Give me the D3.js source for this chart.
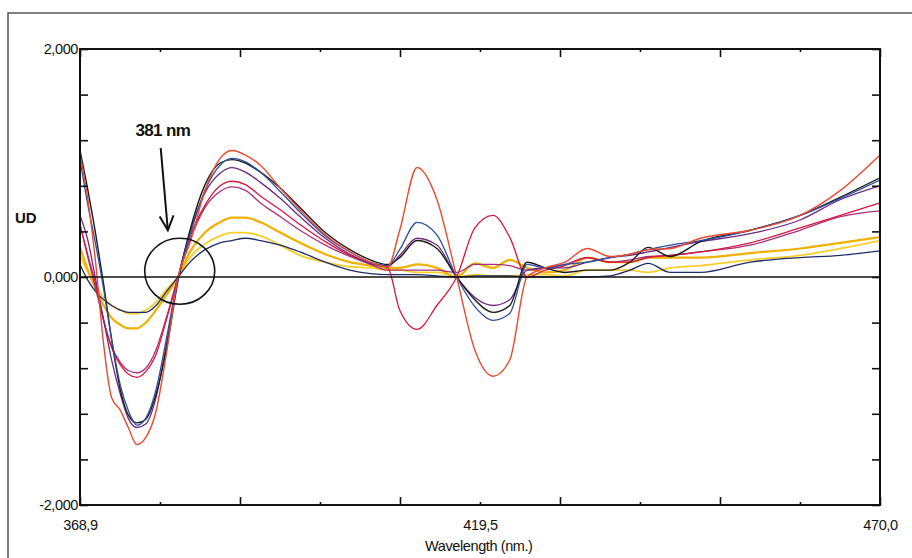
<!DOCTYPE html>
<html><head><meta charset="utf-8">
<script src="https://cdn.jsdelivr.net/npm/d3@7"></script>
<style>body{margin:0;background:#fff}svg{display:block}</style>
</head><body>
<svg id="c" width="912" height="558"></svg>
<script>
// ---- data ----
const wavelengths = [368.9,369.9,370.9,371.9,372.9,374.0,375.0,376.1,377.2,378.5,379.8,381.3,382.8,384.7,386.6,388.1,389.8,391.7,394.2,396.7,399.9,403.0,405.6,407.8,409.3,411.5,414.0,416.5,418.8,421.1,423.2,425.4,427.7,430.2,433.0,435.9,438.4,440.7,443.5,447.3,453.6,459.9,465.0,470.0];

const red     = [1.07,0.68,0.11,-0.60,-1.06,-1.17,-1.32,-1.47,-1.41,-1.18,-0.68,0,0.30,0.76,1.04,1.11,1.07,0.98,0.78,0.59,0.37,0.22,0.13,0.09,0.41,0.96,0.68,0,-0.64,-0.87,-0.73,0,0.08,0.13,0.25,0.18,0.20,0.24,0.25,0.34,0.41,0.54,0.76,1.07];
const blue    = [1.03,0.63,0.28,-0.11,-0.55,-0.95,-1.17,-1.30,-1.24,-0.99,-0.55,0,0.37,0.76,0.98,1.04,1.01,0.92,0.75,0.57,0.36,0.22,0.13,0.10,0.24,0.48,0.37,0,-0.26,-0.38,-0.32,0.11,0.08,0.11,0.13,0.17,0.20,0.24,0.28,0.32,0.41,0.54,0.69,0.85];
const black   = [1.11,0.76,0.37,-0.07,-0.55,-0.99,-1.21,-1.28,-1.25,-1.03,-0.64,-0.03,0.41,0.81,1.00,1.03,1.00,0.92,0.78,0.61,0.39,0.24,0.15,0.11,0.17,0.32,0.25,0,-0.20,-0.31,-0.25,0.13,0.08,0.04,0.06,0.06,0.13,0.26,0.18,0.31,0.41,0.54,0.70,0.87];
const purple  = [0.54,0.32,-0.03,-0.38,-0.73,-1.03,-1.24,-1.32,-1.29,-1.06,-0.60,-0.01,0.39,0.74,0.91,0.96,0.92,0.83,0.69,0.53,0.34,0.20,0.12,0.09,0.19,0.34,0.28,0,-0.18,-0.25,-0.20,0.06,0.08,0.08,0.13,0.17,0.19,0.22,0.26,0.31,0.38,0.50,0.68,0.80];
const crimson = [0.46,0.19,-0.07,-0.38,-0.62,-0.77,-0.85,-0.88,-0.83,-0.68,-0.38,0,0.35,0.63,0.80,0.84,0.81,0.71,0.59,0.46,0.31,0.19,0.12,0.08,-0.29,-0.46,-0.25,0,0.43,0.54,0.35,0,0.06,0.10,0.17,0.13,0.13,0.17,0.19,0.22,0.30,0.43,0.54,0.65];
const magenta = [0.46,0.17,-0.11,-0.39,-0.61,-0.75,-0.82,-0.84,-0.80,-0.64,-0.36,0,0.32,0.61,0.75,0.79,0.76,0.65,0.53,0.41,0.28,0.18,0.11,0.06,0.06,0.06,0.06,0.04,0.11,0.11,0.10,0.06,0.08,0.11,0.17,0.13,0.15,0.18,0.19,0.22,0.28,0.41,0.53,0.58];
const gold    = [0.26,0.06,-0.11,-0.25,-0.36,-0.42,-0.45,-0.45,-0.40,-0.29,-0.16,0,0.22,0.39,0.48,0.52,0.52,0.48,0.39,0.30,0.20,0.13,0.10,0.08,0.08,0.11,0.08,0,0.12,0.08,0.15,0.08,0.04,0.06,0.17,0.13,0.13,0.17,0.17,0.17,0.21,0.25,0.30,0.35];
const yellow  = [0.19,0.04,-0.08,-0.18,-0.25,-0.29,-0.32,-0.32,-0.29,-0.22,-0.11,0,0.17,0.29,0.36,0.39,0.39,0.36,0.28,0.19,0.13,0.09,0.08,0.06,0.06,0.04,0.04,0,0.02,0.01,0.01,0.02,0.02,0.01,0.06,0.06,0.06,0.04,0.08,0.10,0.15,0.19,0.25,0.32];
const navy    = [0.11,-0.03,-0.13,-0.20,-0.25,-0.29,-0.31,-0.31,-0.31,-0.25,-0.13,0,0.13,0.24,0.30,0.32,0.34,0.32,0.28,0.22,0.13,0.06,0.03,0.02,0.02,0.02,0.01,0,0.01,0.01,0.01,0,0,0,0,0.01,0.06,0.12,0.04,0.04,0.13,0.17,0.19,0.23];

const seriesNames  = ["yellow","gold","navy","magenta","crimson","purple","black","blue","red"];
const seriesValues = [yellow, gold, navy, magenta, crimson, purple, black, blue, red];

const xDomain = [368.9, 470.0];
const yDomain = [-2, 2];
const yTickStep = 0.4;
const yLabelValues = [2, 0, -2];
const xLabelValues = [368.9, 419.45, 470.0];
const xTickLabels  = ["368,9", "419,5", "470,0"];
const xAxisTitle = "Wavelength (nm.)";
const yAxisTitle = "UD";
const annotationText = "381 nm";
const annotationPos = [375.9, 1.24];
const arrowFrom = [379.1, 1.13];
const arrowTo   = [380.0, 0.41];
const circleCenter = [381.5, 0.05];

// ---- styles ----
const colors = {yellow:"#f6cf2e", gold:"#f0b000", navy:"#1f2d66", magenta:"#a8307a", crimson:"#d8183e",
                purple:"#6e2a80", black:"#1c1c1c", blue:"#2d4f9f", red:"#ea4a30"};
const widths = {yellow:1.8, gold:2.2, navy:1.3, magenta:1.3, crimson:1.3, purple:1.3, black:1.4, blue:1.3, red:1.4};

const svg = d3.select("#c");
const L = 80, R = 880, T = 49, B = 505;
const x = d3.scaleLinear().domain(xDomain).range([L, R]);
const y = d3.scaleLinear().domain(yDomain).range([B, T]);

// outer frame (scan border)
svg.append("path").attr("d", `M8,558 L8,13 L912,13`).attr("fill","none")
   .attr("stroke","#555").attr("stroke-width",1.5);

svg.append("clipPath").attr("id","clip").append("rect")
   .attr("x",L).attr("y",T).attr("width",R-L).attr("height",B-T);

const line = d3.line().x((d,i)=>x(wavelengths[i])).y(d=>y(d)).curve(d3.curveMonotoneX);
const g = svg.append("g").attr("clip-path","url(#clip)");
seriesNames.forEach((name, k) => {
  g.append("path").datum(seriesValues[k]).attr("d", line)
   .attr("fill","none").attr("stroke", colors[name]).attr("stroke-width", widths[name])
   .attr("stroke-linejoin","round");
});

// zero line
svg.append("line").attr("x1",x(xDomain[0])).attr("x2",x(xDomain[1]))
   .attr("y1",y(0)).attr("y2",y(0)).attr("stroke","#111").attr("stroke-width",1.6);

// axes ticks
const yTicks = d3.range(yDomain[0], yDomain[1] + 1e-9, yTickStep);
const xTicksAll = d3.range(11).map(i => xDomain[0] + i * (xDomain[1]-xDomain[0]) / 10);
const xMajor = xTicksAll.filter((d,i)=> i%2===0);
const xMinor = xTicksAll.filter((d,i)=> i%2===1);

function styleAxis(sel){ sel.select(".domain").remove(); sel.selectAll("line").attr("stroke","#111").attr("stroke-width",1.6); }

svg.append("g").attr("transform",`translate(${L},0)`)
   .call(d3.axisLeft(y).tickValues(yTicks).tickSize(-8).tickFormat("")).call(styleAxis);
svg.append("g").attr("transform",`translate(${R},0)`)
   .call(d3.axisRight(y).tickValues(yTicks).tickSize(-8).tickFormat("")).call(styleAxis);
svg.append("g").attr("transform",`translate(0,${B})`)
   .call(d3.axisBottom(x).tickValues(xMajor).tickSize(-8).tickFormat("")).call(styleAxis);
svg.append("g").attr("transform",`translate(0,${B})`)
   .call(d3.axisBottom(x).tickValues(xMinor).tickSize(-3).tickFormat("")).call(styleAxis);
svg.append("g").attr("transform",`translate(0,${T})`)
   .call(d3.axisTop(x).tickValues(xMajor).tickSize(-8).tickFormat("")).call(styleAxis);
svg.append("g").attr("transform",`translate(0,${T})`)
   .call(d3.axisTop(x).tickValues(xMinor).tickSize(-3).tickFormat("")).call(styleAxis);

// frame
svg.append("rect").attr("x",L).attr("y",T).attr("width",R-L).attr("height",B-T)
   .attr("fill","none").attr("stroke","#111").attr("stroke-width",2);

const font = "'Liberation Sans', Arial, sans-serif";
const fmtY = d => d3.format(".3f")(d).replace(".", ",").replace("−","-");

// y labels
const yl = svg.append("g").attr("transform",`translate(${L},0)`)
   .call(d3.axisLeft(y).tickValues(yLabelValues).tickSize(0).tickPadding(2).tickFormat(fmtY));
yl.select(".domain").remove();
yl.selectAll("text").attr("font-family",font).attr("font-size",14.5).attr("fill","#111")
   .attr("letter-spacing","-0.4");

// x labels
const xl = svg.append("g").attr("transform",`translate(0,${B})`)
   .call(d3.axisBottom(x).tickValues(xLabelValues).tickSize(0).tickPadding(15)
   .tickFormat((d,i)=>xTickLabels[i]));
xl.select(".domain").remove();
xl.selectAll("text").attr("font-family",font).attr("font-size",14.5).attr("fill","#111")
   .attr("letter-spacing","-0.4");

// axis titles
svg.append("text").attr("x", x(419.3)).attr("y", 551).attr("text-anchor","middle")
   .attr("font-family",font).attr("font-size",14.5).attr("letter-spacing","-0.4").attr("fill","#111")
   .text(xAxisTitle);
svg.append("text").attr("x", 15).attr("y", 223).attr("font-family",font).attr("font-weight","bold")
   .attr("font-size",15).attr("fill","#111").text(yAxisTitle);

// annotation
svg.append("text").attr("x", x(annotationPos[0])).attr("y", y(annotationPos[1]))
   .attr("font-family",font).attr("font-weight","bold").attr("font-size",17).attr("letter-spacing","-0.6")
   .attr("fill","#111").text(annotationText);
const ax0 = x(arrowFrom[0]), ay0 = y(arrowFrom[1]), ax1 = x(arrowTo[0]), ay1 = y(arrowTo[1]);
svg.append("line").attr("x1",ax0).attr("y1",ay0).attr("x2",ax1).attr("y2",ay1)
   .attr("stroke","#111").attr("stroke-width",2);
const ang = Math.atan2(ay1-ay0, ax1-ax0), hl = 16, ha = 0.45;
svg.append("path").attr("d",
   `M${ax1-hl*Math.cos(ang-ha)},${ay1-hl*Math.sin(ang-ha)} L${ax1},${ay1} L${ax1-hl*Math.cos(ang+ha)},${ay1-hl*Math.sin(ang+ha)}`)
   .attr("fill","none").attr("stroke","#111").attr("stroke-width",2);
svg.append("ellipse").attr("cx", x(circleCenter[0])).attr("cy", y(circleCenter[1]))
   .attr("rx",35).attr("ry",33).attr("fill","none").attr("stroke","#111").attr("stroke-width",1.6);
</script>
</body></html>
